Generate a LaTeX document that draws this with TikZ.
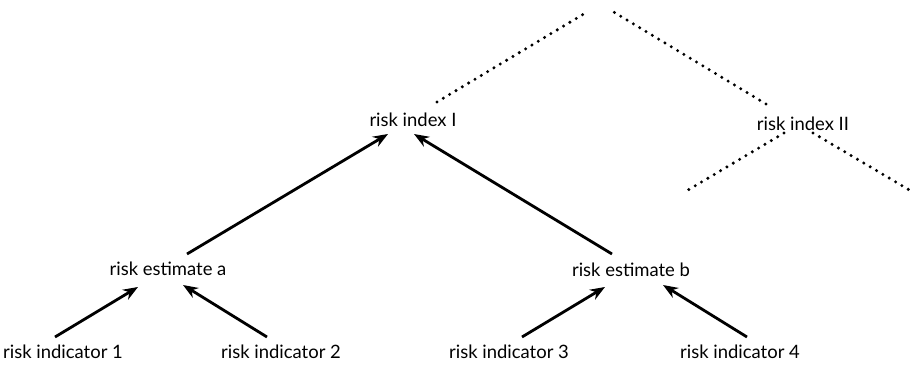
\documentclass[tikz,border=0pt]{standalone}
\usepackage{fontspec}
\setmainfont{Lato}
\usetikzlibrary{arrows.meta}

\begin{document}
\begin{tikzpicture}[x=0.02cm, y=0.02cm, >={Stealth[length=8.5pt,width=6.5pt]},
        lbl/.style={font=\fontsize{10.5}{12}\selectfont, inner sep=0pt},
        link/.style={->, line width=1.6pt},
        dotline/.style={line width=1.9pt, line cap=round, dash pattern=on 0pt off 4.2pt}]
        \useasboundingbox (0,0) rectangle (913,366);

        % indices
        \node[lbl] (idxI)  at (413,246) {risk index I};
        \node[lbl] (idxII) at (803,242) {risk index II};
        % estimates
        \node[lbl] (estA) at (168,97) {risk estimate a};
        \node[lbl] (estB) at (631,96) {risk estimate b};
        % indicators
        \node[lbl] (ind1) at (63,14)  {risk indicator 1};
        \node[lbl] (ind2) at (281,14) {risk indicator 2};
        \node[lbl] (ind3) at (509,14) {risk indicator 3};
        \node[lbl] (ind4) at (740,14) {risk indicator 4};

        % loose ends of the tree
        \coordinate (upL) at (587,354);
        \coordinate (upR) at (612,355);
        \coordinate (lowL) at (683,173);
        \coordinate (lowR) at (911,175);

        \draw[link] ([shift={(-8,15)}]ind1.center) -- ([shift={(-30,-18)}]estA.center);
        \draw[link] ([shift={(-14,15)}]ind2.center) -- ([shift={(15,-16)}]estA.center);
        \draw[link] ([shift={(13,15)}]ind3.center) -- ([shift={(-26,-17)}]estB.center);
        \draw[link] ([shift={(7,15)}]ind4.center) -- ([shift={(32,-15)}]estB.center);
        \draw[link] ([shift={(19,15)}]estA.center) -- ([shift={(-25,-14)}]idxI.center);
        \draw[link] ([shift={(-19,16)}]estB.center) -- ([shift={(1,-14)}]idxI.center);

        \draw[dotline] ([shift={(24,18)}]idxI.center) -- (upL);
        \draw[dotline] ([shift={(-37,20)}]idxII.center) -- (upR);
        \draw[dotline] ([shift={(-19,-9)}]idxII.center) -- (lowL);
        \draw[dotline] ([shift={(10,-9)}]idxII.center) -- (lowR);
    \end{tikzpicture}
\end{document}
